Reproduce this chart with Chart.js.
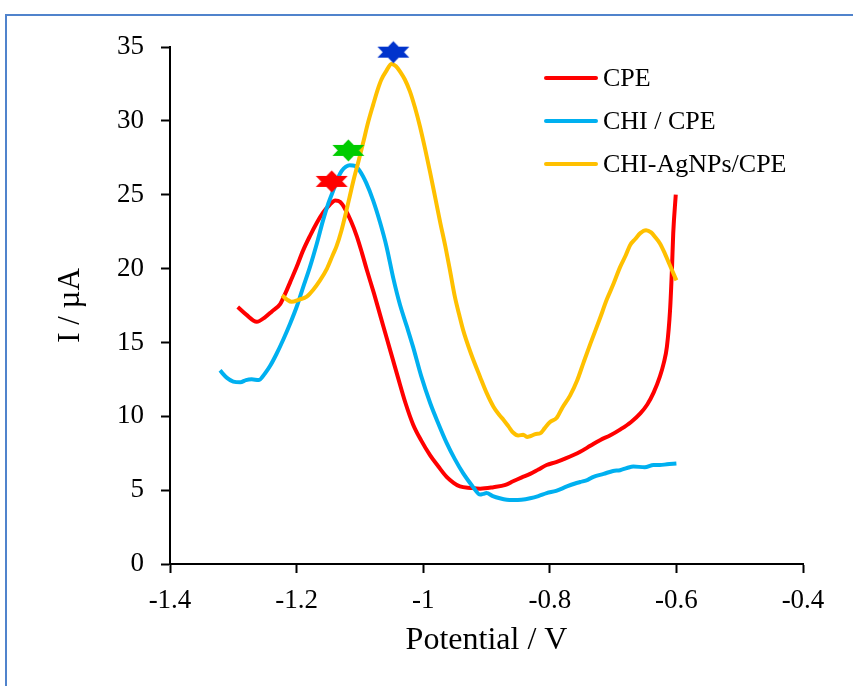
<!DOCTYPE html>
<html>
<head>
<meta charset="utf-8">
<script src="https://cdn.jsdelivr.net/npm/chart.js@4"></script>
<style>
  html, body { margin: 0; padding: 0; background: #ffffff; overflow: hidden; }
  #frame {
    position: absolute; left: 5px; top: 14px; width: 900px; height: 700px;
    border-left: 2px solid #5083cc; border-top: 2px solid #5083cc;
  }
  #wrap { position: absolute; left: 0; top: 0; width: 853px; height: 686px; }
</style>
</head>
<body>
<div id="frame"></div>
<div id="wrap"><canvas id="chart"></canvas></div>
<script>
// Differential pulse voltammograms: current (µA) versus potential (V)
const seriesNames = ['CPE', 'CHI / CPE', 'CHI-AgNPs/CPE'];
const seriesColors = ['#ff0000', '#00b0f0', '#ffc000'];

const cpePotential = [-1.293, -1.280, -1.263, -1.250, -1.239, -1.226, -1.218, -1.210, -1.200, -1.190,
  -1.179, -1.168, -1.158, -1.148, -1.139, -1.131, -1.123, -1.114, -1.105, -1.097,
  -1.089, -1.078, -1.068, -1.058, -1.048, -1.040, -1.028, -1.016, -1.003, -0.989,
  -0.976, -0.963, -0.952, -0.942, -0.925, -0.910, -0.889, -0.870, -0.858, -0.845,
  -0.831, -0.818, -0.805, -0.790, -0.775, -0.752, -0.736, -0.720, -0.705, -0.689,
  -0.672, -0.657, -0.646, -0.636, -0.626, -0.620, -0.615, -0.610, -0.607, -0.605, -0.601];
const cpeCurrent = [17.4, 16.9, 16.4, 16.7, 17.1, 17.6, 18.3, 19.1, 20.1, 21.2,
  22.2, 23.1, 23.8, 24.3, 24.6, 24.5, 24.0, 23.2, 22.2, 21.1,
  19.9, 18.35, 16.85, 15.35, 13.85, 12.65, 10.9, 9.45, 8.35, 7.35,
  6.6, 5.9, 5.5, 5.25, 5.15, 5.1, 5.2, 5.35, 5.6, 5.85,
  6.1, 6.4, 6.7, 6.9, 7.15, 7.6, 8.0, 8.4, 8.7, 9.1,
  9.6, 10.2, 10.8, 11.6, 12.7, 13.6, 14.7, 17.2, 20.0, 22.4, 25.0];

const chiPotential = [-1.321, -1.310, -1.300, -1.289, -1.280, -1.271, -1.260, -1.250, -1.242, -1.232,
  -1.221, -1.210, -1.200, -1.190, -1.179, -1.168, -1.158, -1.150, -1.142, -1.135,
  -1.129, -1.122, -1.116, -1.108, -1.100, -1.090, -1.079, -1.068, -1.058, -1.047,
  -1.037, -1.026, -1.016, -1.003, -0.989, -0.976, -0.963, -0.950, -0.937, -0.928,
  -0.921, -0.910, -0.905, -0.900, -0.890, -0.879, -0.868, -0.858, -0.845, -0.831,
  -0.818, -0.805, -0.790, -0.773, -0.760, -0.752, -0.740, -0.731, -0.715, -0.700,
  -0.689, -0.678, -0.668, -0.650, -0.636, -0.626, -0.615, -0.600];
const chiCurrent = [13.1, 12.6, 12.35, 12.3, 12.45, 12.5, 12.45, 12.9, 13.4, 14.2,
  15.2, 16.3, 17.4, 18.7, 20.1, 21.7, 23.3, 24.4, 25.3, 26.1,
  26.6, 26.9, 27.0, 26.95, 26.6, 25.8, 24.6, 23.1, 21.5, 19.3,
  17.6, 16.1, 14.7, 12.7, 10.9, 9.5, 8.2, 7.1, 6.15, 5.6,
  5.2, 4.7, 4.75, 4.8, 4.6, 4.45, 4.35, 4.33, 4.35, 4.45,
  4.6, 4.8, 4.95, 5.25, 5.45, 5.55, 5.7, 5.9, 6.1, 6.3,
  6.35, 6.5, 6.6, 6.55, 6.7, 6.7, 6.75, 6.8];

const agPotential = [-1.223, -1.215, -1.208, -1.196, -1.184, -1.174, -1.163, -1.152, -1.143, -1.137,
  -1.129, -1.122, -1.116, -1.110, -1.102, -1.095, -1.087, -1.079, -1.072, -1.066,
  -1.058, -1.050, -1.043, -1.036, -1.029, -1.021, -1.013, -1.005, -0.997, -0.989,
  -0.981, -0.973, -0.965, -0.958, -0.950, -0.943, -0.937, -0.925, -0.910, -0.900,
  -0.889, -0.880, -0.873, -0.865, -0.858, -0.850, -0.842, -0.836, -0.831, -0.822,
  -0.815, -0.808, -0.800, -0.789, -0.780, -0.768, -0.757, -0.747, -0.736, -0.721,
  -0.710, -0.700, -0.689, -0.680, -0.673, -0.665, -0.657, -0.648, -0.640, -0.633,
  -0.626, -0.618, -0.612, -0.606, -0.600];
const agCurrent = [18.2, 17.9, 17.75, 17.9, 18.1, 18.55, 19.2, 20.0, 20.9, 21.5,
  22.6, 23.8, 24.9, 26.0, 27.3, 28.5, 29.9, 31.1, 32.1, 32.8,
  33.4, 33.85, 33.7, 33.3, 32.8, 32.0, 30.9, 29.6, 28.1, 26.5,
  24.8, 23.1, 21.5, 19.95, 18.1, 16.85, 15.85, 14.3, 12.65, 11.6,
  10.65, 10.1, 9.75, 9.3, 8.9, 8.7, 8.75, 8.6, 8.65, 8.8,
  8.85, 9.2, 9.6, 9.9, 10.6, 11.4, 12.4, 13.6, 14.9, 16.6,
  17.9, 18.9, 20.1, 20.9, 21.6, 22.0, 22.4, 22.6, 22.45, 22.1,
  21.7, 21.0, 20.4, 19.8, 19.2];

// Star markers above each oxidation peak
const peakPotential = [-1.1445, -1.1183, -1.0472];
const peakCurrent = [25.9, 28.0, 34.65];
const peakColors = ['#ff0000', '#00cc00', '#0033cc'];

const xTicks = [-1.4, -1.2, -1.0, -0.8, -0.6, -0.4];
const xTickLabels = ['-1.4', '-1.2', '-1', '-0.8', '-0.6', '-0.4'];
const yTicks = [0, 5, 10, 15, 20, 25, 30, 35];

const FONT = "'Liberation Serif', 'Times New Roman', serif";

function pairs(xs, ys) { return xs.map((x, i) => ({ x: x, y: ys[i] })); }

// Six-pointed star drawn once into a small canvas and used as a point style
function hexagram(color) {
  const w = 35, h = 25;
  const c = document.createElement('canvas');
  c.width = w; c.height = h;
  const g = c.getContext('2d');
  const cx = w / 2, cy = h / 2, hw = 16, hh = 11;
  g.fillStyle = color;
  g.beginPath();
  g.moveTo(cx, cy - hh); g.lineTo(cx + hw, cy + hh / 2); g.lineTo(cx - hw, cy + hh / 2); g.closePath();
  g.fill();
  g.beginPath();
  g.moveTo(cx, cy + hh); g.lineTo(cx + hw, cy - hh / 2); g.lineTo(cx - hw, cy - hh / 2); g.closePath();
  g.fill();
  return c;
}

const lineSets = [
  [cpePotential, cpeCurrent, 3],
  [chiPotential, chiCurrent, 2],
  [agPotential, agCurrent, 1]
].map((s, i) => ({
  label: seriesNames[i],
  data: pairs(s[0], s[1]),
  showLine: true,
  borderColor: seriesColors[i],
  backgroundColor: seriesColors[i],
  borderWidth: 4,
  pointRadius: 0,
  cubicInterpolationMode: 'monotone',
  order: s[2]
}));

const starSets = peakPotential.map((v, i) => ({
  label: 'peak ' + (i + 1),
  data: [{ x: v, y: peakCurrent[i] }],
  showLine: false,
  pointStyle: hexagram(peakColors[i]),
  pointRadius: 12,
  clip: false,
  order: 0
}));

// Legend inside the plot area, top right
const insideLegend = {
  id: 'insideLegend',
  afterDraw(chart) {
    const ctx = chart.ctx;
    ctx.save();
    ctx.font = '26px ' + FONT;
    ctx.fillStyle = '#000';
    ctx.textBaseline = 'middle';
    ctx.textAlign = 'left';
    const rows = [78, 121, 164];
    seriesNames.forEach((name, i) => {
      ctx.strokeStyle = seriesColors[i];
      ctx.lineWidth = 4;
      ctx.lineCap = 'round';
      ctx.beginPath();
      ctx.moveTo(546, rows[i]);
      ctx.lineTo(596, rows[i]);
      ctx.stroke();
      ctx.fillText(name, 603, rows[i] + 1);
    });
    ctx.restore();
  }
};

const axisGrid = {
  display: true,
  drawOnChartArea: false,
  drawTicks: true,
  tickLength: 9,
  tickWidth: 2,
  tickColor: '#000',
  color: '#000'
};

new Chart(document.getElementById('chart'), {
  type: 'scatter',
  data: { datasets: lineSets.concat(starSets) },
  options: {
    responsive: true,
    maintainAspectRatio: false,
    animation: false,
    devicePixelRatio: 1,
    layout: { padding: { left: 0, right: 50, top: 47, bottom: 0 } },
    plugins: { legend: { display: false }, tooltip: { enabled: false } },
    scales: {
      x: {
        type: 'linear',
        min: -1.4,
        max: -0.4,
        afterBuildTicks(scale) { scale.ticks = xTicks.map(v => ({ value: v })); },
        afterFit(scale) { scale.height = 122; },
        grid: axisGrid,
        border: { display: true, color: '#000', width: 2 },
        ticks: {
          color: '#000',
          font: { family: FONT, size: 27 },
          padding: 12,
          maxRotation: 0,
          callback(value) {
            const k = xTicks.findIndex(t => Math.abs(t - value) < 1e-9);
            return k >= 0 ? xTickLabels[k] : '';
          }
        },
        title: {
          display: true,
          text: 'Potential / V',
          color: '#000',
          font: { family: FONT, size: 32 },
          padding: { top: 0, bottom: 26 }
        }
      },
      y: {
        type: 'linear',
        min: 0,
        max: 35,
        afterBuildTicks(scale) { scale.ticks = yTicks.map(v => ({ value: v })); },
        afterFit(scale) { scale.width = 170; },
        grid: axisGrid,
        border: { display: true, color: '#000', width: 2 },
        ticks: {
          color: '#000',
          font: { family: FONT, size: 27 },
          padding: 17
        },
        title: {
          display: true,
          text: 'I / µA',
          color: '#000',
          font: { family: FONT, size: 31 },
          padding: { top: 52, bottom: 0 }
        }
      }
    }
  },
  plugins: [insideLegend]
});
</script>
</body>
</html>
